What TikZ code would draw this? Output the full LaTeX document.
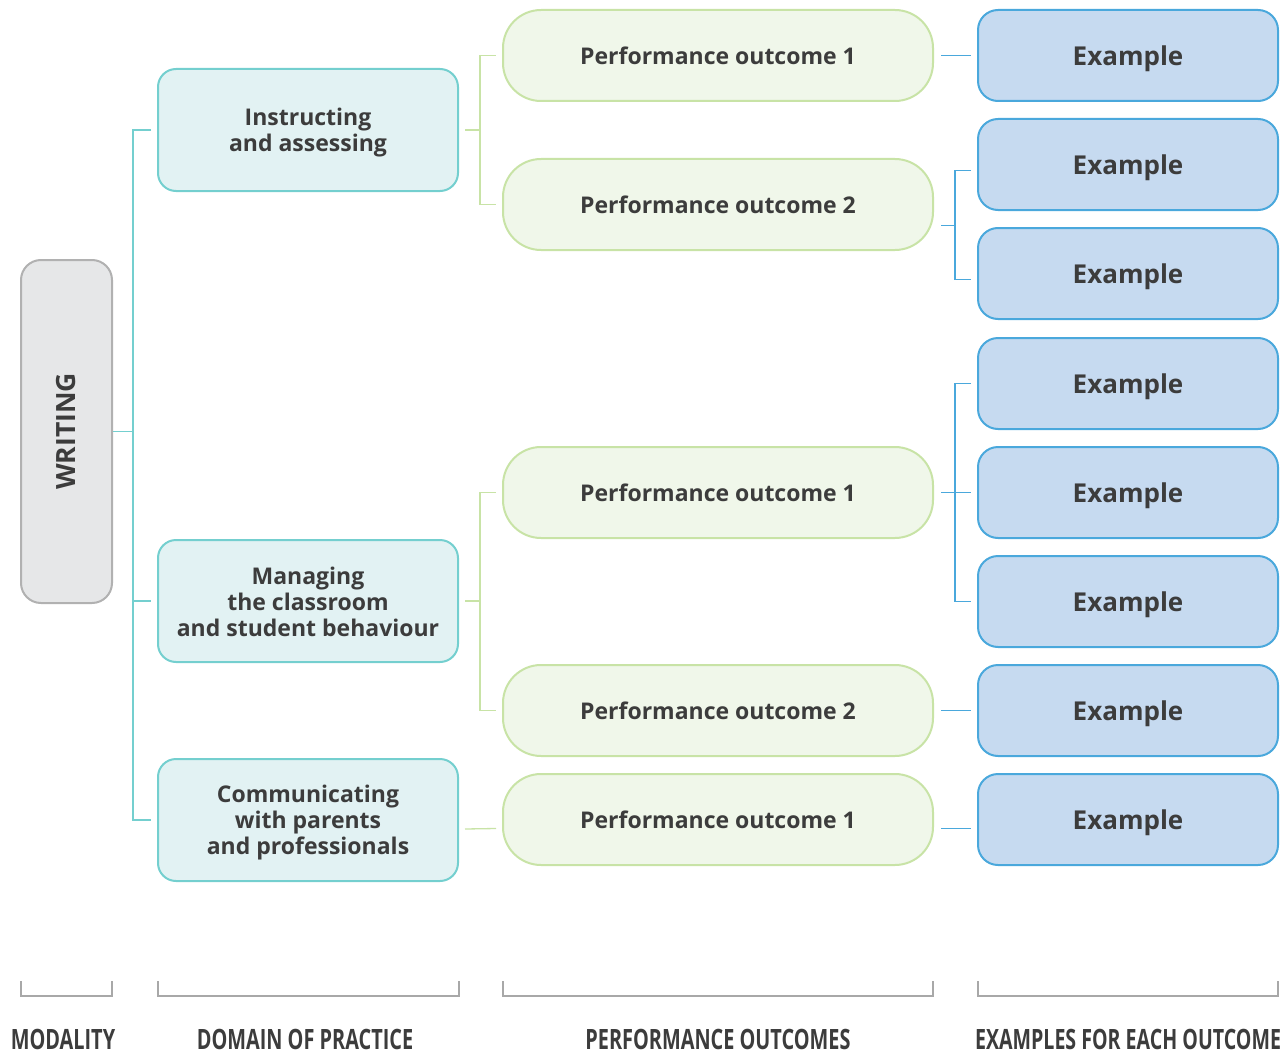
\documentclass[tikz,border=0pt]{standalone}
\usepackage{fontspec}
\setmainfont{Open Sans}
\usepackage{graphicx}
\usetikzlibrary{calc}
\definecolor{txt}{HTML}{3C3C3C}
\definecolor{modfill}{HTML}{E6E7E8}
\definecolor{moddraw}{HTML}{B1B1B1}
\definecolor{domfill}{HTML}{E2F2F3}
\definecolor{domdraw}{HTML}{74CFCF}
\definecolor{pofill}{HTML}{F0F7EA}
\definecolor{podraw}{HTML}{C8E3A6}
\definecolor{exfill}{HTML}{C6DAF0}
\definecolor{exdraw}{HTML}{4AA8DC}
\definecolor{brk}{HTML}{A8A8A8}
\newcommand\dtext[2]{\raisebox{#1}[0pt][0pt]{\begin{tabular}[t]{@{}c@{}}#2\end{tabular}}}
\begin{document}
\begin{tikzpicture}[x=1pt,y=-1pt,
  every node/.style={text=txt, font=\bfseries},
  modbox/.style={draw=moddraw, fill=modfill, line width=2pt, rounded corners=20pt,
    minimum width=91pt, minimum height=343pt, inner sep=0pt},
  dombox/.style={draw=domdraw, fill=domfill, line width=2pt, rounded corners=18pt,
    minimum width=300pt, minimum height=122pt, inner sep=0pt,
    font=\bfseries\fontsize{23}{26.2}\selectfont},
  pobox/.style={draw=podraw, fill=pofill, line width=2pt, rounded corners=38pt,
    minimum width=430pt, minimum height=91pt, inner sep=0pt, text depth=0pt,
    font=\bfseries\fontsize{23}{26}\selectfont},
  exbox/.style={draw=exdraw, fill=exfill, line width=2pt, rounded corners=20pt,
    minimum width=300pt, minimum height=91pt, inner sep=0pt, text depth=0pt,
    font=\bfseries\fontsize{26}{30}\selectfont},
  tl/.style={draw=domdraw, line width=1.3pt},
  gl/.style={draw=podraw, line width=1.3pt},
  bl/.style={draw=exdraw, line width=1.3pt},
  brl/.style={draw=brk, line width=1.3pt},
  lab/.style={font=\bfseries\fontsize{28}{30}\selectfont, text=txt, inner sep=0pt, text depth=0pt}
]
\useasboundingbox (0,0) rectangle (1285,1054);

% modality
\node[modbox] (w) at (66.5,431.5) {\rotatebox{90}{\fontsize{26.5}{30}\selectfont WRITING}};

% domains
\node[dombox] (d1) at (308,130) {\dtext{4.5pt}{Instructing\\and assessing}};
\node[dombox] (d2) at (308,601) {\dtext{17pt}{Managing\\the classroom\\and student behaviour}};
\node[dombox] (d3) at (308,820) {\dtext{17.5pt}{Communicating\\with parents\\and professionals}};

% performance outcomes
\node[pobox] (p1a) at (718,55.5) {Performance outcome 1};
\node[pobox] (p2a) at (718,204.5) {Performance outcome 2};
\node[pobox] (p1b) at (718,492.5) {Performance outcome 1};
\node[pobox] (p2b) at (718,710.5) {Performance outcome 2};
\node[pobox] (p1c) at (718,819.5) {Performance outcome 1};

% examples
\node[exbox] (e1) at (1128,55.5) {Example};
\node[exbox] (e2) at (1128,164.5) {Example};
\node[exbox] (e3) at (1128,273.5) {Example};
\node[exbox] (e4) at (1128,383.5) {Example};
\node[exbox] (e5) at (1128,492.5) {Example};
\node[exbox] (e6) at (1128,601.5) {Example};
\node[exbox] (e7) at (1128,710.5) {Example};
\node[exbox] (e8) at (1128,819.5) {Example};

% writing -> domains
\coordinate (wt) at ([xshift=-24pt]d1.west);
\draw[tl] (w.east) -- (w.east -| wt);
\draw[tl] ([xshift=-6pt]d1.west) -- (wt) -- (wt |- d3.west) -- ([xshift=-6pt]d3.west);
\draw[tl] (wt |- d2.west) -- ([xshift=-6pt]d2.west);

% domains -> outcomes
\coordinate (gt) at ([xshift=-22pt]p1a.west);
\draw[gl] ([xshift=6pt]d1.east) -- (d1.east -| gt);
\draw[gl] ([xshift=-6pt]p1a.west) -- (gt) -- (gt |- p2a.west) -- ([xshift=-6pt]p2a.west);
\draw[gl] ([xshift=6pt]d2.east) -- (d2.east -| gt);
\draw[gl] ([xshift=-6pt]p1b.west) -- (gt |- p1b.west) -- (gt |- p2b.west) -- ([xshift=-6pt]p2b.west);
\draw[gl] ([shift={(6pt,-9pt)}]d3.east) -- ([shift={(-6pt,-9pt)}]p1c.west);

% outcomes -> examples
\coordinate (bt) at ([xshift=-22pt]e1.west);
\draw[bl] ([xshift=7pt]p1a.east) -- ([xshift=-6pt]e1.west);
\draw[bl] ([shift={(7pt,-21pt)}]p2a.east) -- ([shift={(0pt,-21pt)}]bt |- p2a.east);
\draw[bl] ([shift={(-6pt,-6pt)}]e2.west) -- ([yshift=-6pt]bt |- e2.west) -- ([yshift=-6pt]bt |- e3.west) -- ([shift={(-6pt,-6pt)}]e3.west);
\draw[bl] ([xshift=7pt]p1b.east) -- ([xshift=-6pt]e5.west);
\draw[bl] ([xshift=-6pt]e4.west) -- (bt |- e4.west) -- (bt |- e6.west) -- ([xshift=-6pt]e6.west);
\draw[bl] ([xshift=7pt]p2b.east) -- ([xshift=-6pt]e7.west);
\draw[bl] ([shift={(7pt,-9pt)}]p1c.east) -- ([shift={(-6pt,-9pt)}]e8.west);

% bottom brackets
\draw[brl] (21,981) -- (21,996) -- (112,996) -- (112,981);
\draw[brl] (158,981) -- (158,996) -- (459,996) -- (459,981);
\draw[brl] (503,981) -- (503,996) -- (933,996) -- (933,981);
\draw[brl] (978,981) -- (978,996) -- (1278,996) -- (1278,981);

\node[lab] (l1) at (63,1039) {\scalebox{0.71}[1]{MODALITY}};
\node[lab] (l2) at (305,1039) {\scalebox{0.71}[1]{DOMAIN OF PRACTICE}};
\node[lab] (l3) at (718,1039) {\scalebox{0.71}[1]{PERFORMANCE OUTCOMES}};
\node[lab] (l4) at (1128,1039) {\scalebox{0.7}[1]{EXAMPLES FOR EACH OUTCOME}};
\end{tikzpicture}
\end{document}
